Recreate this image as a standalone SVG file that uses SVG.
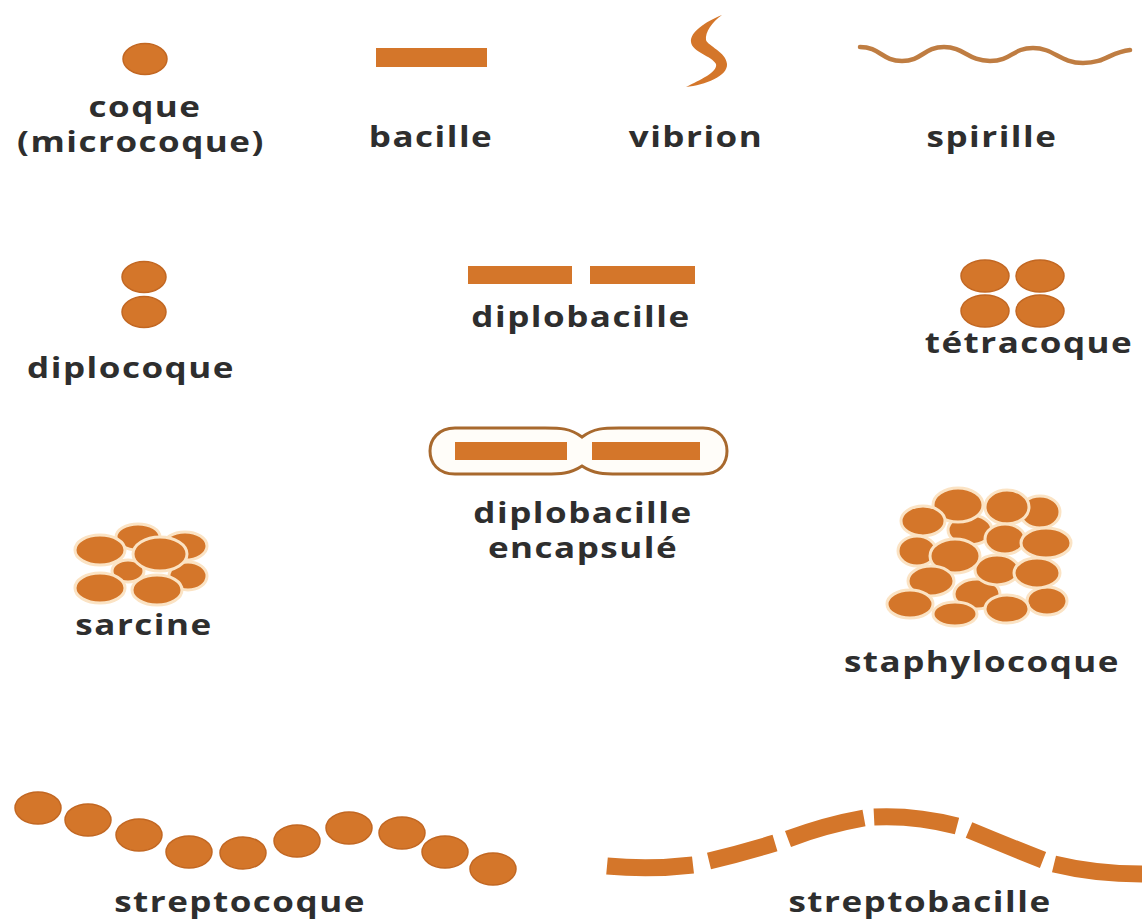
<svg xmlns="http://www.w3.org/2000/svg" width="1142" height="924" viewBox="0 0 1142 924">
  <style>
    .lbl { font-family: "Open Sans", "Liberation Sans", sans-serif; font-weight: 700; font-size: 28px; letter-spacing: 1.2px; fill: #2e2e2e; text-anchor: middle; }
    .cell { fill: #d4762a; stroke: #c26722; stroke-width: 1.5; }
    .pack { fill: #d4762a; stroke: #fbe3c4; stroke-width: 3; }
    .rod { fill: #d4762a; }
    .chain { fill: none; stroke: #d4762a; stroke-width: 17; stroke-linecap: butt; }
  </style>
  <rect width="1142" height="924" fill="#ffffff"/>

  <!-- single coccus -->
  <g id="coque">
    <ellipse class="cell" cx="145" cy="59" rx="22" ry="15.5"/>
    <text class="lbl" transform="translate(145 117) scale(1.25 1)">coque</text>
    <text class="lbl" transform="translate(141 152) scale(1.25 1)">(microcoque)</text>
  </g>

  <!-- single rod -->
  <g id="bacille">
    <rect class="rod" x="376" y="48" width="111" height="19"/>
    <text class="lbl" transform="translate(431 147) scale(1.25 1)">bacille</text>
  </g>

  <!-- comma-shaped cell -->
  <g id="vibrion">
    <path class="rod" d="M722 15 C705 22 690 32 691 42 C692 52 712 56 716 64 C718 72 700 80 686 87 C705 85 728 76 727 64 C726 52 708 46 706 40 C705 32 712 22 722 15 Z"/>
    <text class="lbl" transform="translate(696 147) scale(1.25 1)">vibrion</text>
  </g>

  <!-- spiral -->
  <g id="spirille">
    <path d="M860 47 C880 47 882 61 902 61 S924 47 944 47 S968 61 990 61 S1012 48 1033 48 S1060 63 1083 63 S1110 52 1130 50" fill="none" stroke="#bf7d42" stroke-width="4.5" stroke-linecap="round"/>
    <text class="lbl" transform="translate(992 147) scale(1.25 1)">spirille</text>
  </g>

  <!-- pair of cocci -->
  <g id="diplocoque">
    <ellipse class="cell" cx="144" cy="277" rx="22" ry="15.5"/>
    <ellipse class="cell" cx="144" cy="312" rx="22" ry="15.5"/>
    <text class="lbl" transform="translate(131 378) scale(1.25 1)">diplocoque</text>
  </g>

  <!-- pair of rods -->
  <g id="diplobacille">
    <rect class="rod" x="468" y="266" width="104" height="18"/>
    <rect class="rod" x="590" y="266" width="105" height="18"/>
    <text class="lbl" transform="translate(581 327) scale(1.25 1)">diplobacille</text>
  </g>

  <!-- group of four cocci -->
  <g id="tetracoque">
    <ellipse class="cell" cx="985" cy="276" rx="24" ry="16"/>
    <ellipse class="cell" cx="1040" cy="276" rx="24" ry="16"/>
    <ellipse class="cell" cx="985" cy="311" rx="24" ry="16"/>
    <ellipse class="cell" cx="1040" cy="311" rx="24" ry="16"/>
    <text class="lbl" transform="translate(1029 353) scale(1.25 1)">tétracoque</text>
  </g>

  <!-- pair of rods inside a capsule -->
  <g id="diplobacille-encapsule">
    <path d="M582 437 C570 428 560 428 545 428 L455 428 C438 428 430 440 430 451 C430 463 438 474 455 474 L545 474 C560 474 570 474 582 466 C594 474 604 474 619 474 L703 474 C720 474 727 463 727 451 C727 440 720 428 703 428 L619 428 C604 428 594 428 582 437 Z" fill="#fffdf9" stroke="#a8692e" stroke-width="3"/>
    <rect class="rod" x="455" y="442" width="112" height="18"/>
    <rect class="rod" x="592" y="442" width="108" height="18"/>
    <text class="lbl" transform="translate(583 523) scale(1.25 1)">diplobacille</text>
    <text class="lbl" transform="translate(583 558) scale(1.25 1)">encapsulé</text>
  </g>

  <!-- cubic packet of cocci -->
  <g id="sarcine">
    <ellipse class="pack" cx="138" cy="537" rx="22" ry="13"/>
    <ellipse class="pack" cx="185" cy="546" rx="22" ry="14"/>
    <ellipse class="pack" cx="128" cy="571" rx="16" ry="11"/>
    <ellipse class="pack" cx="188" cy="576" rx="19" ry="14"/>
    <ellipse class="pack" cx="100" cy="550" rx="25" ry="15"/>
    <ellipse class="pack" cx="100" cy="588" rx="25" ry="15"/>
    <ellipse class="pack" cx="157" cy="590" rx="25" ry="15"/>
    <ellipse class="pack" cx="160" cy="554" rx="27" ry="17"/>
    <text class="lbl" transform="translate(144 635) scale(1.25 1)">sarcine</text>
  </g>

  <!-- grape-like cluster of cocci -->
  <g id="staphylocoque">
    <ellipse class="pack" cx="1040" cy="512" rx="20" ry="16"/>
    <ellipse class="pack" cx="970" cy="530" rx="22" ry="15"/>
    <ellipse class="pack" cx="958" cy="505" rx="25" ry="17"/>
    <ellipse class="pack" cx="1007" cy="507" rx="22" ry="17"/>
    <ellipse class="pack" cx="923" cy="521" rx="22" ry="15"/>
    <ellipse class="pack" cx="1005" cy="539" rx="20" ry="15"/>
    <ellipse class="pack" cx="1046" cy="543" rx="25" ry="15"/>
    <ellipse class="pack" cx="917" cy="551" rx="19" ry="15"/>
    <ellipse class="pack" cx="977" cy="594" rx="23" ry="15"/>
    <ellipse class="pack" cx="1047" cy="601" rx="20" ry="14"/>
    <ellipse class="pack" cx="997" cy="570" rx="22" ry="15"/>
    <ellipse class="pack" cx="1037" cy="573" rx="23" ry="15"/>
    <ellipse class="pack" cx="955" cy="556" rx="25" ry="17"/>
    <ellipse class="pack" cx="931" cy="581" rx="23" ry="15"/>
    <ellipse class="pack" cx="1007" cy="609" rx="22" ry="14"/>
    <ellipse class="pack" cx="955" cy="614" rx="22" ry="12"/>
    <ellipse class="pack" cx="910" cy="604" rx="23" ry="14"/>
    <text class="lbl" transform="translate(982 672) scale(1.25 1)">staphylocoque</text>
  </g>

  <!-- chain of cocci -->
  <g id="streptocoque">
    <ellipse class="cell" cx="38" cy="808" rx="23" ry="16"/>
    <ellipse class="cell" cx="88" cy="820" rx="23" ry="16"/>
    <ellipse class="cell" cx="139" cy="835" rx="23" ry="16"/>
    <ellipse class="cell" cx="189" cy="852" rx="23" ry="16"/>
    <ellipse class="cell" cx="243" cy="853" rx="23" ry="16"/>
    <ellipse class="cell" cx="297" cy="841" rx="23" ry="16"/>
    <ellipse class="cell" cx="349" cy="828" rx="23" ry="16"/>
    <ellipse class="cell" cx="402" cy="833" rx="23" ry="16"/>
    <ellipse class="cell" cx="445" cy="852" rx="23" ry="16"/>
    <ellipse class="cell" cx="493" cy="869" rx="23" ry="16"/>
    <text class="lbl" transform="translate(240 912) scale(1.25 1)">streptocoque</text>
  </g>

  <!-- chain of rods -->
  <g id="streptobacille">
    <path class="chain" d="M607 866 Q650 870 693 865"/>
    <path class="chain" d="M709 861 Q742 853 775 843"/>
    <path class="chain" d="M788 839 Q825 825 864 818"/>
    <path class="chain" d="M874 817 Q915 815 957 826"/>
    <path class="chain" d="M969 830 Q1005 845 1043 860"/>
    <path class="chain" d="M1054 864 Q1095 874 1142 874"/>
    <text class="lbl" transform="translate(920 912) scale(1.25 1)">streptobacille</text>
  </g>

  <g id="connectors"/>
</svg>
